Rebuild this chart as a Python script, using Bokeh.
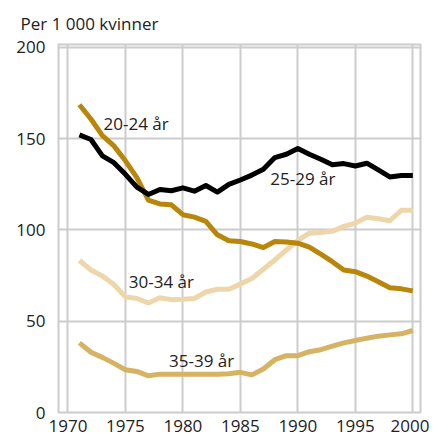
from bokeh.plotting import figure
from bokeh.models import Range1d, FixedTicker, Label
from bokeh.embed import file_html
from bokeh.resources import INLINE

years = list(range(1971, 2001))
age_20_24 = [168.5, 160.7, 151.6, 146.0, 137.8, 128.6, 116.3, 114.2, 113.7, 108.3,
             107.0, 104.7, 97.3, 94.0, 93.6, 92.3, 90.3, 93.6, 93.4, 92.7,
             90.5, 86.7, 82.6, 78.0, 77.1, 74.7, 71.6, 68.3, 67.7, 66.6]
age_25_29 = [152.0, 149.5, 140.5, 136.8, 130.4, 123.4, 119.4, 122.1, 121.4, 123.0,
             121.2, 124.3, 120.7, 124.9, 127.3, 130.0, 133.2, 139.6, 141.4, 144.6,
             141.4, 138.7, 135.6, 136.3, 135.0, 136.5, 132.8, 129.0, 129.8, 129.8]
age_30_34 = [83.2, 78.0, 74.7, 70.1, 63.3, 62.4, 60.0, 62.8, 61.8, 62.0,
             62.4, 66.0, 67.5, 67.5, 70.3, 73.4, 78.4, 83.5, 89.0, 94.2,
             98.2, 98.6, 99.2, 101.9, 103.7, 106.9, 106.1, 105.0, 110.7, 110.7]
age_35_39 = [38.1, 33.0, 30.2, 26.9, 23.4, 22.5, 20.1, 21.0, 21.0, 21.0,
             21.0, 21.0, 21.0, 21.2, 22.0, 20.6, 23.8, 28.9, 31.1, 31.1,
             33.3, 34.4, 36.3, 38.1, 39.4, 40.7, 41.8, 42.5, 43.1, 44.9]

series_labels = ["20-24 år", "25-29 år", "30-34 år", "35-39 år"]
label_x = [1973.1, 1987.6, 1975.3, 1978.8]
label_y = [158.0, 128.0, 72.0, 28.5]
x_ticks = [1970, 1975, 1980, 1985, 1990, 1995, 2000]
y_ticks = [0, 50, 100, 150, 200]
title_text = "Per 1 000 kvinner"

FONT = "Open Sans"
FS = "17px"
GRID = "#cccccc"

p = figure(output_backend="svg", toolbar_location=None,
           frame_width=362, frame_height=368,
           x_range=Range1d(1969.18, 2000.67), y_range=Range1d(0, 201.5),
           min_border_left=58, min_border_right=9, min_border_top=43, min_border_bottom=24)

p.title.text = title_text
p.title.align = "left"
p.title.offset = -38
p.title.standoff = 19
p.title.text_font = FONT
p.title.text_font_size = FS
p.title.text_font_style = "normal"
p.title.text_color = "#222222"

p.outline_line_color = GRID
p.outline_line_width = 2

for ax in (p.xaxis, p.yaxis):
    ax.axis_line_color = None
    ax.major_tick_line_color = None
    ax.minor_tick_line_color = None
    ax.major_label_text_font = FONT
    ax.major_label_text_font_size = FS
    ax.major_label_text_color = "#222222"
p.xaxis.ticker = FixedTicker(ticks=x_ticks)
p.yaxis.ticker = FixedTicker(ticks=y_ticks)
p.xaxis.major_label_standoff = 1
p.yaxis.major_label_standoff = 7

p.xgrid.ticker = FixedTicker(ticks=x_ticks)
p.ygrid.ticker = FixedTicker(ticks=y_ticks)
for g in (p.xgrid, p.ygrid):
    g.grid_line_color = GRID
    g.grid_line_width = 2

lw = 5
p.line(years, age_35_39, line_color="#d6b263", line_width=lw, line_join="round")
p.line(years, age_30_34, line_color="#eed6ab", line_width=lw, line_join="round")
p.line(years, age_20_24, line_color="#b8860b", line_width=lw, line_join="round")
p.line(years, age_25_29, line_color="#000000", line_width=lw, line_join="round")

for t, x, y in zip(series_labels, label_x, label_y):
    p.add_layout(Label(x=x, y=y, text=t, text_font=FONT, text_font_size=FS,
                       text_color="#222222", text_baseline="middle", text_align="left"))

open("out.html", "w").write(file_html(p, INLINE))
